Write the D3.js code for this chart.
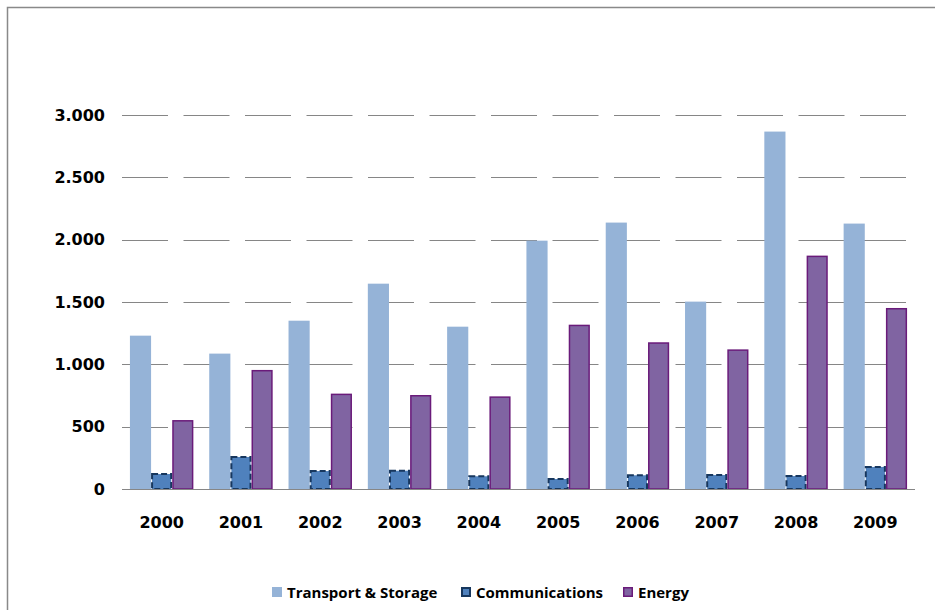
<!DOCTYPE html>
<meta charset="utf-8">
<style>
body { margin: 0; background: #fff; }
svg { display: block; }
.tick-label, .year-label { font-family: "DejaVu Sans", sans-serif; font-weight: bold; font-size: 16px; fill: #000; }
.legend-label { font-family: "Open Sans", sans-serif; font-weight: bold; font-size: 15px; fill: #000; }
</style>
<svg width="935" height="610"></svg>
<script src="https://cdn.jsdelivr.net/npm/d3@7"></script>
<script>

var years = ["2000", "2001", "2002", "2003", "2004", "2005", "2006", "2007", "2008", "2009"];
var seriesNames = ["Transport & Storage", "Communications", "Energy"];
var transport = [1230, 1086, 1350, 1647, 1302, 1992, 2137, 1503, 2867, 2129];
var communications = [128, 265, 152, 155, 110, 88, 118, 120, 112, 185];
var energy = [553, 955, 765, 754, 743, 1318, 1177, 1120, 1872, 1452];
var yTicks = [0, 500, 1000, 1500, 2000, 2500, 3000];

var styles = {
  "Transport & Storage": {fill: "#95b3d7", stroke: "none", dash: null, sw: 0},
  "Communications": {fill: "#4f81bd", stroke: "#17375e", dash: "6,3", sw: 2},
  "Energy": {fill: "#8064a2", stroke: "#6a1b7a", dash: null, sw: 1.5}
};

var svg = d3.select("svg");

var plot = {left: 122, right: 915, top: 115, bottom: 489};

// chart frame (top and left edges visible)
svg.append("path")
    .attr("d", "M7.5,610V7.5H935")
    .attr("fill", "none")
    .attr("stroke", "#898989")
    .attr("stroke-width", 1.5);

var x = d3.scaleBand().domain(years).range([plot.left, plot.right])
    .paddingInner(0.2).paddingOuter(0.1);
var x1 = d3.scaleBand().domain(seriesNames).range([0, x.bandwidth()]);
var y = d3.scaleLinear().domain([0, 3000]).range([plot.bottom, plot.top]);

// gridlines
svg.append("g").selectAll("line")
  .data(yTicks.filter(function(d) { return d > 0; }))
  .enter().append("line")
    .attr("x1", plot.left).attr("x2", plot.right)
    .attr("y1", function(d) { return Math.round(y(d)) + 0.5; })
    .attr("y2", function(d) { return Math.round(y(d)) + 0.5; })
    .attr("stroke", "#868686")
    .attr("stroke-width", 1)
    .attr("stroke-dasharray", "46,15.5");

// y tick labels
svg.append("g").selectAll("text")
  .data(yTicks)
  .enter().append("text")
    .attr("class", "tick-label")
    .attr("x", 105)
    .attr("y", function(d) { return y(d); })
    .attr("dy", "0.36em")
    .attr("text-anchor", "end")
    .text(function(d) { return d3.format(",")(d).replace(/,/g, "."); });

var data = years.map(function(yr, i) {
  return {year: yr, values: [
    {key: seriesNames[0], value: transport[i]},
    {key: seriesNames[1], value: communications[i]},
    {key: seriesNames[2], value: energy[i]}
  ]};
});

var groups = svg.append("g").selectAll("g")
  .data(data)
  .enter().append("g")
    .attr("transform", function(d) { return "translate(" + x(d.year) + ",0)"; });

groups.selectAll("rect")
  .data(function(d) { return d.values; })
  .enter().append("rect")
    .attr("x", function(d) { return x1(d.key) + styles[d.key].sw / 2; })
    .attr("y", function(d) { return y(d.value) + styles[d.key].sw / 2; })
    .attr("width", function(d) { return x1.bandwidth() - styles[d.key].sw; })
    .attr("height", function(d) { return Math.max(0, y(0) - y(d.value) - styles[d.key].sw / 2); })
    .attr("fill", function(d) { return styles[d.key].fill; })
    .attr("stroke", function(d) { return styles[d.key].stroke; })
    .attr("stroke-width", function(d) { return styles[d.key].sw; })
    .attr("stroke-dasharray", function(d) { return styles[d.key].dash; });

// x axis line
svg.append("line")
    .attr("x1", plot.left).attr("x2", plot.right)
    .attr("y1", plot.bottom + 0.5).attr("y2", plot.bottom + 0.5)
    .attr("stroke", "#868686")
    .attr("stroke-width", 1.2);

// year labels
svg.append("g").selectAll("text")
  .data(years)
  .enter().append("text")
    .attr("class", "year-label")
    .attr("x", function(d) { return x(d) + x.bandwidth() / 2; })
    .attr("y", 528)
    .attr("text-anchor", "middle")
    .text(function(d) { return d; });

// legend
var legendX = [272, 461, 623];
var legend = svg.append("g").selectAll("g")
  .data(seriesNames)
  .enter().append("g")
    .attr("transform", function(d, i) { return "translate(" + legendX[i] + ",587)"; });

legend.append("rect")
    .attr("x", function(d) { return styles[d].sw / 2; })
    .attr("y", function(d) { return styles[d].sw / 2; })
    .attr("width", function(d) { return 10 - styles[d].sw; })
    .attr("height", function(d) { return 10 - styles[d].sw; })
    .attr("fill", function(d) { return styles[d].fill; })
    .attr("stroke", function(d) { return styles[d].stroke; })
    .attr("stroke-width", function(d) { return styles[d].sw; });

legend.append("text")
    .attr("class", "legend-label")
    .attr("x", 15)
    .attr("y", 11)
    .text(function(d) { return d; });

</script>
